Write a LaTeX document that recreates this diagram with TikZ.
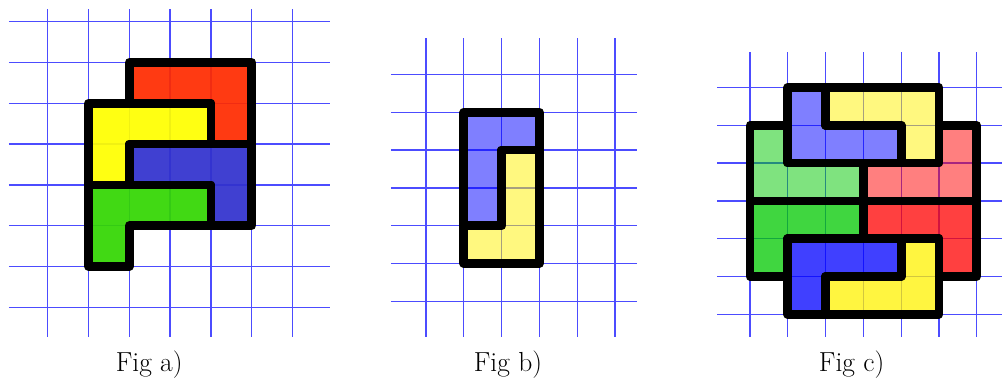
\documentclass[tikz,border=0pt]{standalone}
\usepackage{tikz}
\usepackage{xcolor}

\definecolor{redA}{RGB}{255,43,0}
\definecolor{yellowA}{RGB}{255,255,0}
\definecolor{blueA}{RGB}{50,50,205}
\definecolor{greenA}{RGB}{51,214,2}
\definecolor{greenC}{RGB}{0,200,0}

\begin{document}
\begin{tikzpicture}[
    bluegrid/.style={blue, draw opacity=0.7, line width=1pt},
    piece/.style={draw=black, line width=6.5pt, line join=round},
    figlabel/.style={font=\huge, anchor=base}
  ]
  \useasboundingbox (0,0) rectangle (26.508,10.026);

  % Fig a
  \begin{scope}[shift={(1.262,1.897)}, scale=1.0794]
    \draw[bluegrid] (-0.95,-0.72) grid (6.92,7.30);
    \draw[piece, fill=redA, fill opacity=0.93] (2,6) -- (5,6) -- (5,4) -- (4,4) -- (4,5) -- (2,5) -- cycle;
    \draw[piece, fill=yellowA, fill opacity=0.93] (1,5) -- (4,5) -- (4,4) -- (2,4) -- (2,3) -- (1,3) -- cycle;
    \draw[piece, fill=blueA, fill opacity=0.93] (2,4) -- (5,4) -- (5,2) -- (4,2) -- (4,3) -- (2,3) -- cycle;
    \draw[piece, fill=greenA, fill opacity=0.93] (1,3) -- (4,3) -- (4,2) -- (2,2) -- (2,1) -- (1,1) -- cycle;
  \end{scope}
  \node[figlabel] (labelA) at (3.947,0.21) {Fig a)};

  % Fig b
  \begin{scope}[shift={(11.270,2.056)}]
    \draw[bluegrid] (-0.93,-0.94) grid (5.57,6.96);
    \draw[piece, fill=blue, fill opacity=0.5] (1,5) -- (3,5) -- (3,4) -- (2,4) -- (2,2) -- (1,2) -- cycle;
    \draw[piece, fill=yellow, fill opacity=0.5] (2,4) -- (3,4) -- (3,1) -- (1,1) -- (1,2) -- (2,2) -- cycle;
  \end{scope}
  \node[figlabel] (labelB) at (13.44,0.21) {Fig b)};

  % Fig c
  \begin{scope}[shift={(19.841,1.712)}]
    \draw[bluegrid] (-0.87,-0.59) grid (6.7,6.93);
    \draw[piece, fill=blue, fill opacity=0.5] (1,6) -- (2,6) -- (2,5) -- (4,5) -- (4,4) -- (1,4) -- cycle;
    \draw[piece, fill=yellow, fill opacity=0.5] (2,6) -- (5,6) -- (5,4) -- (4,4) -- (4,5) -- (2,5) -- cycle;
    \draw[piece, fill=greenC, fill opacity=0.5] (0,5) -- (1,5) -- (1,4) -- (3,4) -- (3,3) -- (0,3) -- cycle;
    \draw[piece, fill=red, fill opacity=0.5] (3,4) -- (5,4) -- (5,5) -- (6,5) -- (6,3) -- (3,3) -- cycle;
    \draw[piece, fill=greenC, fill opacity=0.75] (0,3) -- (3,3) -- (3,2) -- (1,2) -- (1,1) -- (0,1) -- cycle;
    \draw[piece, fill=red, fill opacity=0.75] (3,3) -- (6,3) -- (6,1) -- (5,1) -- (5,2) -- (3,2) -- cycle;
    \draw[piece, fill=blue, fill opacity=0.75] (1,2) -- (4,2) -- (4,1) -- (2,1) -- (2,0) -- (1,0) -- cycle;
    \draw[piece, fill=yellow, fill opacity=0.75] (4,2) -- (5,2) -- (5,0) -- (2,0) -- (2,1) -- (4,1) -- cycle;
  \end{scope}
  \node[figlabel] (labelC) at (22.53,0.21) {Fig c)};
\end{tikzpicture}
\end{document}
